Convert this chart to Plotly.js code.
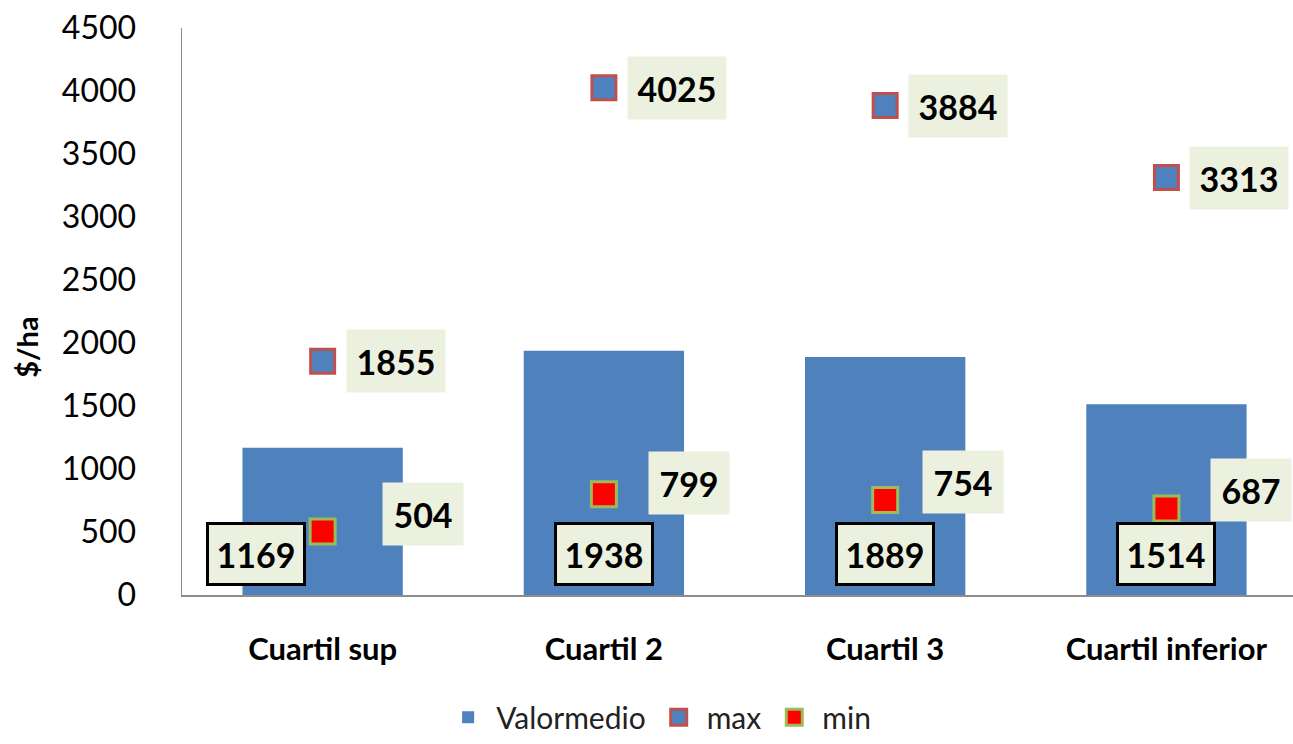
<!DOCTYPE html>
<html>
<head>
<meta charset="utf-8">
<script src="https://cdn.plot.ly/plotly-3.0.1.min.js"></script>
<style>html,body{margin:0;padding:0;background:#fff;}#chart{width:1293px;height:744px;}</style>
</head>
<body>
<div id="chart"></div>
<script>
// ---- data ----
const categories = ["Cuartil sup", "Cuartil 2", "Cuartil 3", "Cuartil inferior"];
const valorMedio = [1169, 1938, 1889, 1514];
const maxValues = [1855, 4025, 3884, 3313];
const minValues = [504, 799, 754, 687];
const yTickValues = [0, 500, 1000, 1500, 2000, 2500, 3000, 3500, 4000, 4500];

// ---- styles ----
const FONT = "Lato, 'Open Sans', sans-serif";
const barColor = "#4F81BD";
const labelBg = "#EBF1DE";
const meanLabelXShift = [-67, 0, 0, 0];
const minLabelXShift = [59, 44, 37, 44];
const minLabelYShift = [18, 11, 18, 18];

const idx = categories.map((_, i) => i);

const traces = [
  {
    type: "bar", name: "Valormedio", x: idx, y: valorMedio,
    marker: {color: barColor}, hoverinfo: "y"
  },
  {
    type: "scatter", mode: "markers", name: "max", x: idx, y: maxValues,
    marker: {symbol: "square", size: 24, color: barColor, line: {color: "#C0504D", width: 3}}
  },
  {
    type: "scatter", mode: "markers", name: "min", x: idx, y: minValues,
    marker: {symbol: "square", size: 25, color: "#FF0000", line: {color: "#9BBB59", width: 3}}
  }
];

const labelFont = {family: FONT, size: 34, color: "#000", weight: 700};
const annotations = [];
idx.forEach(i => {
  annotations.push({
    x: i, y: maxValues[i], xref: "x", yref: "y", text: String(maxValues[i]),
    showarrow: false, xanchor: "left", yanchor: "middle", xshift: 23,
    font: labelFont, bgcolor: labelBg, borderpad: 9, width: 80, height: 44
  });
  annotations.push({
    x: i, y: minValues[i], xref: "x", yref: "y", text: String(minValues[i]),
    showarrow: false, xanchor: "left", yanchor: "middle",
    xshift: minLabelXShift[i], yshift: minLabelYShift[i],
    font: labelFont, bgcolor: labelBg, borderpad: 9, width: 62, height: 44
  });
  annotations.push({
    x: i, y: 0, xref: "x", yref: "y", text: String(valorMedio[i]),
    showarrow: false, xanchor: "center", yanchor: "bottom", yshift: 9, xshift: meanLabelXShift[i],
    font: labelFont, bgcolor: labelBg, bordercolor: "#000", borderwidth: 3, borderpad: 7, width: 80, height: 44
  });
});

// y-axis title placed like the original (slightly below the plot centre)
annotations.push({
  xref: "paper", yref: "paper", x: -0.1395, y: 0.436,
  xanchor: "center", yanchor: "middle", textangle: -90, showarrow: false,
  text: "$/ha", font: {family: FONT, size: 29, color: "#000", weight: 700}
});

const layout = {
  width: 1293, height: 744,
  margin: {l: 182, r: 0, t: 28, b: 149},
  paper_bgcolor: "#fff", plot_bgcolor: "#fff",
  bargap: 0.43,
  showlegend: true,
  legend: {
    orientation: "h", xref: "container", yref: "container",
    x: 0.509, xanchor: "center", y: 0.036, yanchor: "middle",
    font: {family: FONT, size: 30, color: "#222"}, traceorder: "normal",
    itemwidth: 46
  },
  xaxis: {
    range: [-0.5, 3.45],
    tickvals: idx, ticktext: categories,
    showline: true, linecolor: "#8C8C8C", linewidth: 1.5,
    showgrid: false, zeroline: false, ticks: "",
    ticklabelstandoff: 26,
    tickfont: {family: FONT, size: 31, color: "#000", weight: 700},
    fixedrange: true
  },
  yaxis: {
    range: [0, 4500],
    tickvals: yTickValues,
    showline: true, linecolor: "#8C8C8C", linewidth: 1.5,
    showgrid: false, zeroline: false, ticks: "",
    ticklabelstandoff: 38,
    tickfont: {family: FONT, size: 32, color: "#000"},
    fixedrange: true
  },
  annotations: annotations,
  font: {family: FONT}
};

Plotly.newPlot("chart", traces, layout, {displayModeBar: false, staticPlot: true});
</script>
</body>
</html>
